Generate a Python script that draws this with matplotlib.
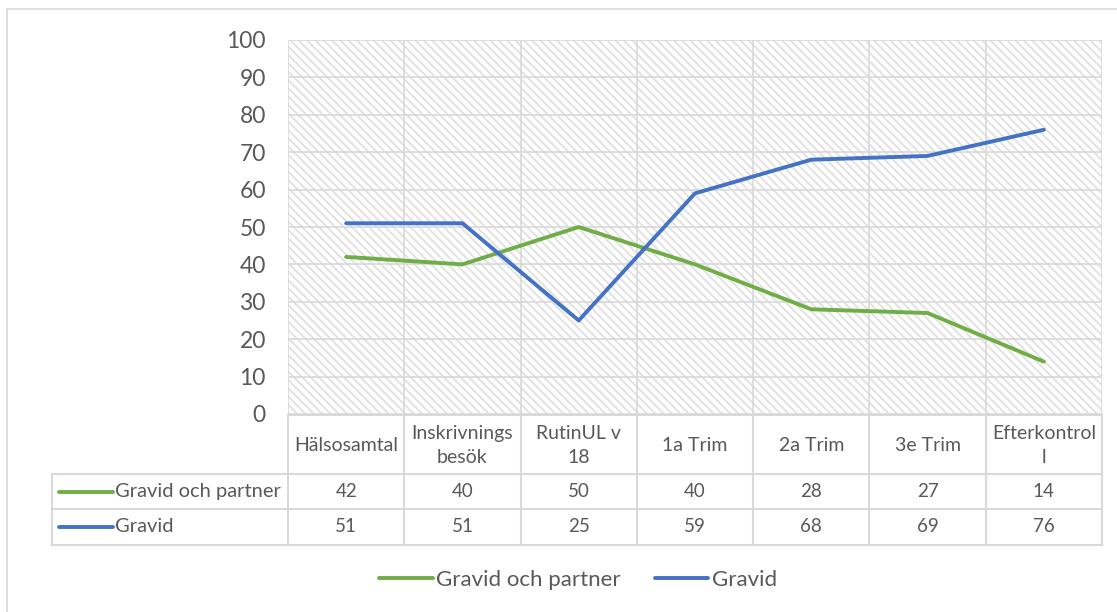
import matplotlib
matplotlib.use("Agg")
import matplotlib.pyplot as plt
from matplotlib.patches import Rectangle
from matplotlib.lines import Line2D

plt.rcParams['font.family'] = ['Lato', 'DejaVu Sans']
plt.rcParams['hatch.linewidth'] = 1.4

categories = ["Hälsosamtal", "Inskrivnings\nbesök", "RutinUL v\n18", "1a Trim",
              "2a Trim", "3e Trim", "Efterkontrol\nl"]
series_names = ["Gravid och partner", "Gravid"]
gravid_och_partner = [42, 40, 50, 40, 28, 27, 14]
gravid = [51, 51, 25, 59, 68, 69, 76]
series_values = [gravid_och_partner, gravid]
series_colors = ["#70AD47", "#4472C4"]
yticks = list(range(0, 101, 10))

TEXT = "#595959"
GRID = "#D9D9D9"
HATCH = "#E2E2E2"

W, H = 1117, 612
fig = plt.figure(figsize=(W / 100, H / 100), dpi=100)

# outer chart frame
fig.add_artist(Rectangle((7 / W, -0.05), 1.2, 1 - 9 / H + 0.05, transform=fig.transFigure,
                         fill=False, edgecolor=GRID, linewidth=1.2))

left, right, top, bottom = 288, 1102, 40, 414
ax = fig.add_axes([left / W, 1 - bottom / H, (right - left) / W, (bottom - top) / H])

n = len(categories)
ax.set_xlim(-0.5, n - 0.5)
ax.set_ylim(0, 100)

# hatched plot area
ax.add_patch(Rectangle((-0.5, 0), n, 100, facecolor='white', hatch='\\\\\\\\',
                       edgecolor=HATCH, linewidth=0, zorder=0))

for y in yticks:
    ax.axhline(y, color=GRID, linewidth=1.2, zorder=1)
for i in range(n + 1):
    ax.axvline(i - 0.5, color=GRID, linewidth=1.2, zorder=1)

x = list(range(n))
for vals, c in zip(series_values, series_colors):
    ax.plot(x, vals, color=c, linewidth=2.8, solid_capstyle='round',
            solid_joinstyle='round', zorder=3)

for s in ax.spines.values():
    s.set_visible(False)
ax.set_xticks([])
ax.set_yticks(yticks)
ax.tick_params(axis='y', length=0, pad=16, labelsize=16.5, labelcolor=TEXT)

# data table below the plot area
tr = ax.get_xaxis_transform()
def yf(ypix):
    return (bottom - ypix) / (bottom - top)

cat_w = (right - left) / n
leg_left = -0.5 - (left - 52) / cat_w

y_hdr_top, y_hdr_bot, y_r1_bot, y_r2_bot = 415, 474, 509, 545
tbl = dict(transform=tr, color=GRID, linewidth=1.5, clip_on=False)
ax.add_line(Line2D([-0.5, n - 0.5], [yf(y_hdr_top)] * 2, **tbl))
for yy in (y_hdr_bot, y_r1_bot, y_r2_bot):
    ax.add_line(Line2D([leg_left, n - 0.5], [yf(yy)] * 2, **tbl))
for i in range(n + 1):
    ax.add_line(Line2D([i - 0.5, i - 0.5], [yf(y_hdr_top), yf(y_r2_bot)], **tbl))
ax.add_line(Line2D([leg_left, leg_left], [yf(y_hdr_bot), yf(y_r2_bot)], **tbl))

for i, cat in enumerate(categories):
    ax.text(i, yf((y_hdr_top + y_hdr_bot) / 2 + 1), cat, transform=tr, ha='center',
            va='center', fontsize=14, color=TEXT, linespacing=1.55, clip_on=False)

row_bounds = [(y_hdr_bot, y_r1_bot), (y_r1_bot, y_r2_bot)]
key_x0 = leg_left + (59 - 52) / cat_w
key_x1 = leg_left + (113 - 52) / cat_w
for (r0, r1), name, vals, c in zip(row_bounds, series_names, series_values, series_colors):
    yc = yf((r0 + r1) / 2)
    ax.add_line(Line2D([key_x0, key_x1], [yc, yc], transform=tr, color=c,
                       linewidth=2.8, solid_capstyle='round', clip_on=False))
    ax.text(key_x1 + 0.02, yc, name, transform=tr, ha='left', va='center',
            fontsize=14.5, color=TEXT, clip_on=False)
    for i, v in enumerate(vals):
        ax.text(i, yc, str(v), transform=tr, ha='center', va='center',
                fontsize=13.5, color=TEXT, clip_on=False)

# bottom legend
handles = [Line2D([], [], color=c, linewidth=2.8, solid_capstyle='round')
           for c in series_colors]
fig.legend(handles, series_names, loc='center', bbox_to_anchor=(578 / W, 1 - 580 / H),
           ncol=2, frameon=False, fontsize=16, handlelength=2.4, handletextpad=0.15,
           columnspacing=1.55, labelcolor=TEXT)

fig.savefig("out.png", dpi=100)
